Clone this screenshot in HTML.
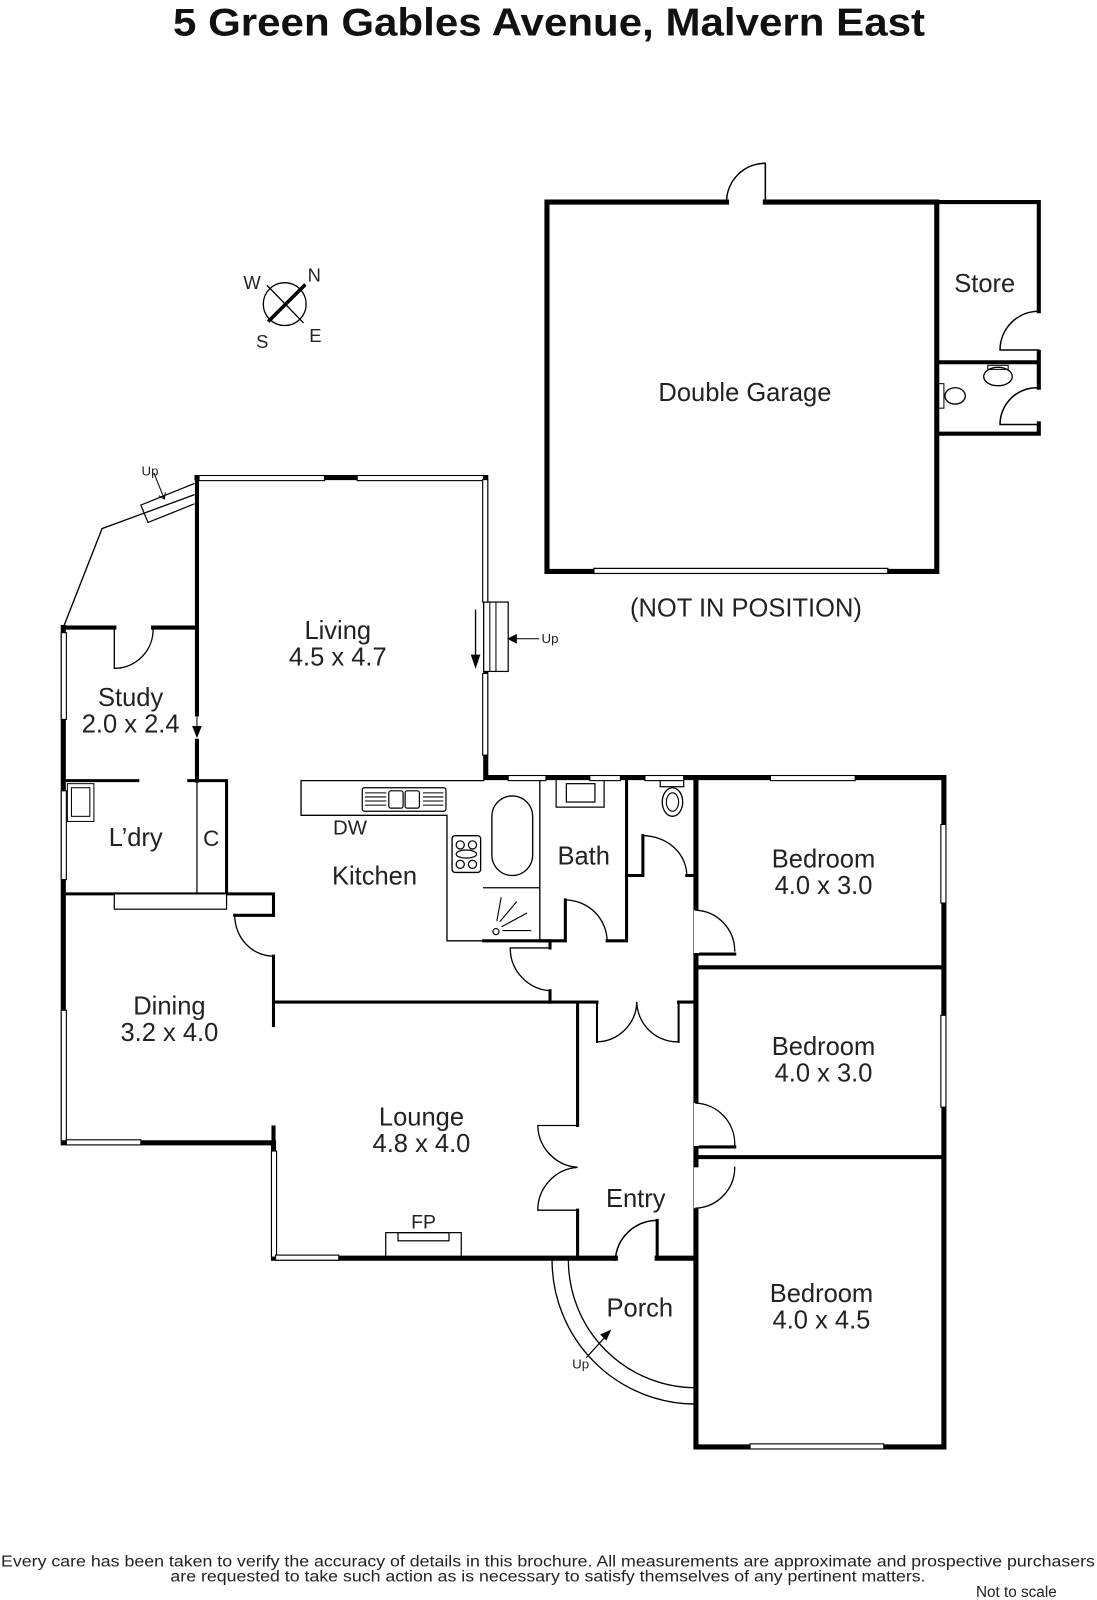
<!DOCTYPE html>
<html><head><meta charset="utf-8"><style>
html,body{margin:0;padding:0;background:#fff}
svg{display:block}
text{font-family:"Liberation Sans",sans-serif;fill:#222}
</style></head><body>
<svg width="1097" height="1600" viewBox="0 0 1075 1568" xmlns="http://www.w3.org/2000/svg">
<text x="538" y="35" font-size="38" font-weight="bold" text-anchor="middle" textLength="737" lengthAdjust="spacingAndGlyphs" style="fill:#111">5 Green Gables Avenue, Malvern East</text>

<g fill="none" stroke="#000" stroke-linecap="square">
<!-- Garage -->
<path d="M712 198 H536 V560 H918 V198 H750" stroke-width="5"/>
<path d="M750 198 V160 A38 38 0 0 0 712 198" stroke-width="1.5"/>
<path d="M918 198 H1018 V305 M1018 345 V352 M918 355 H1018 V380 M1018 415 V425 H918 V198" stroke-width="4"/>
<path d="M1018 305 A38 38 0 0 0 980 343 H1018 M1018 380 A36 36 0 0 0 980 416 H1018" stroke-width="1.5"/>
<rect x="582" y="557" width="288" height="5" fill="#fff" stroke-width="1.2"/>
<ellipse cx="978" cy="369" rx="14" ry="9" stroke-width="1.3"/>
<rect x="968" y="358" width="20" height="4" stroke-width="1"/>
<rect x="919" y="376" width="6" height="24" stroke-width="1"/>
<ellipse cx="936" cy="388" rx="10" ry="8" stroke-width="1.3"/>

<!-- compass -->
<circle cx="279" cy="298" r="21" stroke-width="1.3"/>
<line x1="262" y1="280" x2="297" y2="316" stroke-width="1.3"/>
<line x1="264" y1="314" x2="298" y2="280" stroke-width="3.5"/>

<!-- exterior walls -->
<path d="M193 468 H476 V762 H925 V1418 H682 V762" stroke-width="5"/>
<path d="M193 468 V700 M193 726 V765" stroke-width="4"/>
<path d="M62 615 V1120 H268 V1233 H603 M644 1233 H682" stroke-width="5"/>
<path d="M62 615 H112 M150 615 H193" stroke-width="4"/>
<path d="M112 615 V655 A38 38 0 0 0 150 617" stroke-width="1.3"/>
<path d="M268 1120 V1105" stroke-width="4"/>
<!-- bay -->
<path d="M62 615 L100 518 L190 485" stroke-width="1.3"/>
<path d="M190 474 L138 495 L145 512 L190 494" stroke-width="1.2"/>
<path d="M151 464 L161 489" stroke-width="1"/>
<path d="M161 489 l-5 -3 M161 489 l1 -6" stroke-width="1"/>

<!-- study/laundry -->
<path d="M62 765 H135 M185 765 H222 V876" stroke-width="3"/>
<path d="M193 765 V876" stroke-width="1.2"/>
<path d="M193 700 V720" stroke-width="1"/>
<path d="M189 712 L193 722 L197 712 Z" fill="#000" stroke-width="1"/>
<rect x="66" y="768" width="26" height="37" stroke-width="1"/>
<rect x="70" y="772" width="18" height="28" stroke-width="1"/>
<!-- kitchen/dining -->
<path d="M62 876 H268 V897 M268 937 V1005" stroke-width="3"/>
<rect x="112" y="876" width="110" height="15" stroke-width="1.2" fill="#fff"/>
<path d="M230 897 A38 40 0 0 0 268 937" stroke-width="1.3"/>
<path d="M230 897 H268" stroke-width="3"/>
<!-- lounge -->
<path d="M268 982 H585 M665 982 H682 M566 982 V1103 M566 1186 V1233" stroke-width="3"/>
<path d="M566 1103 H527 A42 42 0 0 0 566 1144 A42 42 0 0 0 527 1186 H566" stroke-width="1.3"/>
<path d="M585 982 V1021 A40 40 0 0 0 624 982 A40 40 0 0 0 665 1021 V982" stroke-width="1.3"/>
<path d="M585 982 V1021 M665 982 V1021" stroke-width="2"/>
<rect x="378" y="1208" width="74" height="24" stroke-width="1.2"/>
<rect x="390" y="1208" width="50" height="8" stroke-width="1.2"/>
<!-- front door -->
<path d="M644 1233 V1196 A41 41 0 0 0 603 1235" stroke-width="1.5"/>
<path d="M644 1233 V1196" stroke-width="3"/>
<!-- porch -->
<path d="M541 1235 A141 141 0 0 0 682 1376" stroke-width="1.3"/>
<path d="M557 1235 A125 125 0 0 0 682 1360" stroke-width="1.3"/>
<path d="M575 1330 L595 1308" stroke-width="1.2"/>
<path d="M598 1304 l-9 4 l5 5 Z" fill="#000" stroke-width="1"/>

<!-- kitchen bench -->
<path d="M295 765 H474 M295 765 V799 H438 V922 H474" stroke-width="1.3"/>
<rect x="355" y="772" width="82" height="23" rx="2" stroke-width="1.2"/>
<rect x="381" y="775" width="14" height="17" rx="2" stroke-width="1.2"/>
<rect x="397" y="775" width="14" height="17" rx="2" stroke-width="1.2"/>
<path d="M358 777 H378 M358 781 H378 M358 785 H378 M358 789 H378 M415 777 H434 M415 781 H434 M415 785 H434 M415 789 H434" stroke-width="1"/>
<rect x="443" y="819" width="28" height="36" rx="3" stroke-width="1.3"/>
<circle cx="451" cy="828" r="4" stroke-width="1.2"/><circle cx="463" cy="828" r="4" stroke-width="1.2"/>
<circle cx="451" cy="847" r="4" stroke-width="1.2"/><circle cx="463" cy="847" r="4" stroke-width="1.2"/>
<ellipse cx="457" cy="837" rx="10" ry="4" stroke-width="1.2"/>

<!-- bath -->
<path d="M474 922 H539 V929 M539 971 V982" stroke-width="3"/>
<path d="M500 929 H539 M500 929 A42 42 0 0 0 539 971" stroke-width="1.3"/>
<path d="M529 763 V922 M474 870 H529" stroke-width="1.3"/>
<rect x="482" y="780" width="40" height="78" rx="20" stroke-width="1.3"/>
<circle cx="486" cy="913" r="3" stroke-width="1.1"/>
<path d="M493 912 H520 M492 908 L516 895 M490 903 L506 884 M487 902 L491 880" stroke-width="1.1"/>
<path d="M529 922 H554 V882 M595 922 H614 V763" stroke-width="3"/>
<path d="M554 882 A41 41 0 0 1 595 922" stroke-width="1.3"/>
<rect x="545" y="763" width="47" height="28" stroke-width="1.2"/>
<rect x="555" y="768" width="28" height="18" stroke-width="1.2"/>
<!-- WC -->
<path d="M614 858 H630 V819 M673 858 H682" stroke-width="3"/>
<path d="M630 819 A43 39 0 0 1 673 858" stroke-width="1.3"/>
<rect x="647" y="763" width="23" height="8" stroke-width="1.2"/>
<ellipse cx="659" cy="786" rx="10" ry="14" stroke-width="1.3"/>
<ellipse cx="659" cy="786" rx="6" ry="9" stroke-width="1.1"/>

<!-- bedroom walls & doors -->
<path d="M682 948 H925 M682 1134 H925" stroke-width="4"/>
<path d="M682 935 H720 M682 1124 H720" stroke-width="3"/>
<rect x="680" y="892" width="5" height="42" fill="#fff" stroke="none"/>
<path d="M682 892 A40 40 0 0 1 720 932" stroke-width="1.3"/>
<rect x="680" y="1081" width="5" height="42" fill="#fff" stroke="none"/>
<path d="M682 1081 A40 40 0 0 1 720 1122" stroke-width="1.3"/>
<rect x="680" y="1144" width="5" height="40" fill="#fff" stroke="none"/>
<path d="M720 1144 A40 40 0 0 1 682 1184" stroke-width="1.3"/>

<!-- living stairs -->
<rect x="474" y="590" width="24" height="68" fill="#fff" stroke-width="1.2"/>
<path d="M480 590 V658 M486 590 V658" stroke-width="1"/>
<path d="M466 598 V648" stroke-width="1.3"/>
<path d="M462 642 L466 654 L470 642 Z" fill="#000" stroke-width="1"/>
<path d="M528 626 H500" stroke-width="1"/>
<path d="M498 626 l8 -4 v8 Z" fill="#000" stroke-width="1"/>
</g>

<!-- windows -->
<g fill="#fff" stroke="#000" stroke-width="1.1">
<rect x="195" y="466" width="123" height="5"/>
<rect x="350" y="466" width="124" height="5"/>
<rect x="473" y="470" width="5" height="120"/>
<rect x="473" y="660" width="5" height="80"/>
<rect x="498" y="760" width="37" height="5"/>
<rect x="578" y="760" width="30" height="5"/>
<rect x="632" y="760" width="38" height="5"/>
<rect x="755" y="760" width="83" height="5"/>
<rect x="922" y="808" width="5" height="77"/>
<rect x="922" y="995" width="5" height="90"/>
<rect x="735" y="1415" width="131" height="5"/>
<rect x="60" y="620" width="5" height="85"/>
<rect x="60" y="775" width="5" height="87"/>
<rect x="60" y="990" width="5" height="128"/>
<rect x="65" y="1117" width="73" height="5"/>
<rect x="266" y="1128" width="5" height="104"/>
<rect x="270" y="1230" width="62" height="5"/>
</g>

<g font-size="25" text-anchor="middle">
<text x="965" y="286">Store</text>
<text x="730" y="393">Double Garage</text>
<text x="731" y="604">(NOT IN POSITION)</text>
<text x="331" y="626">Living</text><text x="331" y="652">4.5 x 4.7</text>
<text x="128" y="692">Study</text><text x="128" y="718">2.0 x 2.4</text>
<text x="133" y="829">L’dry</text><text x="207" y="829" font-size="22">C</text>
<text x="367" y="867">Kitchen</text>
<text x="343" y="818" font-size="20">DW</text>
<text x="572" y="847">Bath</text>
<text x="807" y="850">Bedroom</text><text x="807" y="876">4.0 x 3.0</text>
<text x="807" y="1034">Bedroom</text><text x="807" y="1060">4.0 x 3.0</text>
<text x="166" y="994">Dining</text><text x="166" y="1020">3.2 x 4.0</text>
<text x="413" y="1103">Lounge</text><text x="413" y="1129">4.8 x 4.0</text>
<text x="415" y="1204" font-size="19">FP</text>
<text x="623" y="1183">Entry</text>
<text x="627" y="1290">Porch</text>
<text x="805" y="1276">Bedroom</text><text x="805" y="1302">4.0 x 4.5</text>
</g>
<g font-size="13" text-anchor="middle">
<text x="147" y="466">Up</text>
<text x="539" y="630">Up</text>
<text x="569" y="1341">Up</text>
</g>
<g font-size="18" text-anchor="middle">
<text x="247" y="283">W</text><text x="308" y="276">N</text>
<text x="257" y="341">S</text><text x="309" y="335">E</text>
</g>
<g font-size="15" text-anchor="middle" style="fill:#111">
<text x="537" y="1535" textLength="1072" lengthAdjust="spacingAndGlyphs">Every care has been taken to verify the accuracy of details in this brochure.  All measurements are approximate and prospective purchasers</text>
<text x="537" y="1550" textLength="740" lengthAdjust="spacingAndGlyphs">are requested to take such action as is necessary to satisfy themselves of any pertinent matters.</text>
<text x="996" y="1565">Not to scale</text>
</g>
</svg>
</body></html>
